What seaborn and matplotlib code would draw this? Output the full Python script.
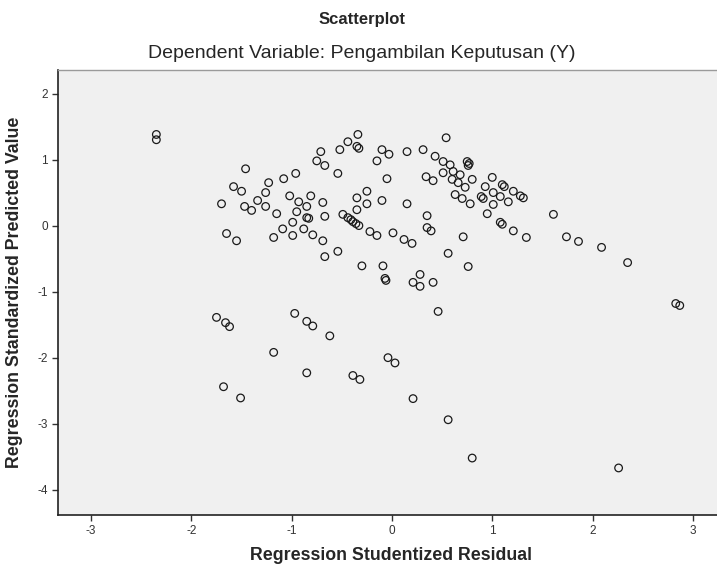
"""
SPSS-style regression scatterplot: studentized residual vs standardized predicted value.
Output: out.png
"""

import matplotlib
matplotlib.use('Agg')
import matplotlib.pyplot as plt
import seaborn as sns
import pandas as pd

# Regression Studentized Residual (x) / Regression Standardized Predicted Value (y)
resid = [
    -2.35, -2.35, -1.46, -1.58, -1.50, -1.23, -1.08, -0.96, -1.70, -1.47,
    -1.40, -1.34, -1.26, -1.26, -1.15, -1.02, -0.93, -0.81, -0.85, -0.95,
    -0.99, -0.85, -0.83, -0.88, -0.79, -1.09, -1.18, -0.99, -1.65, -1.55,
    -0.69, -0.54, -0.05, -0.25, -0.35, -0.25, -0.10, -0.35, 0.15, 0.34,
    0.41, -0.69, -0.67, -0.49, -0.44, -0.41, -0.39, -0.36, -0.33, -0.22,
    -0.15, 0.01, 0.12, 0.20, 0.35, 0.35, 0.39, 0.71, -0.54, -0.67,
    -0.30, -0.09, -0.07, -0.06, 0.28, 0.21, 0.28, 0.41, 0.56, 0.76,
    0.46, 0.51, 0.61, 0.68, 0.80, 0.60, 0.66, 0.73, 0.63, 0.70,
    0.78, 1.00, 0.93, 1.10, 1.12, 1.01, 1.08, 1.16, 1.21, 1.28,
    1.31, 0.89, 0.91, 1.01, 0.95, 1.08, 1.10, 1.21, 1.34, 0.75,
    0.77, 0.76, 0.58, 0.51, 0.43, 0.31, 0.15, 0.54, -0.34, -0.44,
    -0.35, -0.33, -0.52, -0.71, -0.75, -0.67, -0.10, -0.15, -0.03, 1.61,
    1.74, 1.86, 2.09, 2.35, 2.83, 2.87, -1.75, -1.66, -1.62, -0.97,
    -0.85, -0.79, -0.62, -1.18, -0.85, -0.39, -0.32, -1.68, -1.51, -0.04,
    0.03, 0.21, 0.56, 0.80, 2.26,
]
pred = [
    1.38, 1.30, 0.86, 0.59, 0.52, 0.65, 0.71, 0.79, 0.33, 0.29,
    0.23, 0.38, 0.50, 0.29, 0.18, 0.45, 0.36, 0.45, 0.29, 0.21,
    0.05, 0.12, 0.11, -0.05, -0.14, -0.05, -0.18, -0.15, -0.12, -0.23,
    -0.23, 0.79, 0.71, 0.52, 0.42, 0.33, 0.38, 0.24, 0.33, 0.74,
    0.68, 0.35, 0.14, 0.17, 0.12, 0.09, 0.06, 0.03, 0.00, -0.09,
    -0.15, -0.11, -0.21, -0.27, 0.15, -0.03, -0.08, -0.17, -0.39, -0.47,
    -0.61, -0.61, -0.80, -0.83, -0.74, -0.86, -0.92, -0.86, -0.42, -0.62,
    -1.30, 0.80, 0.82, 0.77, 0.70, 0.70, 0.65, 0.58, 0.47, 0.41,
    0.33, 0.73, 0.59, 0.62, 0.59, 0.50, 0.44, 0.36, 0.52, 0.45,
    0.42, 0.44, 0.41, 0.32, 0.18, 0.05, 0.02, -0.08, -0.18, 0.97,
    0.94, 0.91, 0.92, 0.97, 1.05, 1.15, 1.12, 1.33, 1.38, 1.27,
    1.20, 1.17, 1.15, 1.12, 0.98, 0.91, 1.15, 0.98, 1.08, 0.17,
    -0.17, -0.24, -0.33, -0.56, -1.18, -1.21, -1.39, -1.47, -1.53, -1.33,
    -1.45, -1.52, -1.67, -1.92, -2.23, -2.27, -2.33, -2.44, -2.61, -2.00,
    -2.08, -2.62, -2.94, -3.52, -3.67,
]

x_ticks = [-3, -2, -1, 0, 1, 2, 3]
y_ticks = [2, 1, 0, -1, -2, -3, -4]

df = pd.DataFrame({'resid': resid, 'pred': pred})

sns.set_style('white')
plt.rcParams.update({
    'font.family': ['Liberation Sans', 'DejaVu Sans'],
    'figure.dpi': 100,
})

fig = plt.figure(figsize=(7.17, 5.67), facecolor='white')
# plot frame runs a little past the right edge, like the cropped SPSS output
ax = fig.add_axes([0.081, 0.092, 0.93, 0.785])
ax.set_facecolor('#f0f0f0')

sns.scatterplot(data=df, x='resid', y='pred', ax=ax, marker='o', s=30,
                facecolor='none', edgecolor='#1a1a1a', linewidth=0.9,
                legend=False)

ax.set_xlim(-3.33, 3.32)
ax.set_ylim(-4.38, 2.36)
ax.set_xticks(x_ticks)
ax.set_yticks(y_ticks)
ax.set_xticklabels([str(t) for t in x_ticks])
ax.set_yticklabels([str(t) for t in y_ticks])
ax.tick_params(axis='both', direction='out', length=4, width=1,
               labelsize=8.5, colors='#333333', left=True, bottom=True)

for side in ['left', 'bottom']:
    ax.spines[side].set_color('#222222')
    ax.spines[side].set_linewidth(1.2)
for side in ['top', 'right']:
    ax.spines[side].set_color('#9a9a9a')
    ax.spines[side].set_linewidth(1.0)

ax.set_xlabel('Regression Studentized Residual', fontsize=12.8,
              fontweight='bold', labelpad=7)
ax.set_ylabel('Regression Standardized Predicted Value', fontsize=12.8,
              fontweight='bold', labelpad=10)

fig.text(0.505, 0.966, 'Scatterplot', ha='center', va='center',
         fontsize=12, fontweight='bold')
fig.text(0.505, 0.906, 'Dependent Variable: Pengambilan Keputusan (Y)',
         ha='center', va='center', fontsize=14)

fig.savefig('out.png', dpi=100, facecolor='white')
